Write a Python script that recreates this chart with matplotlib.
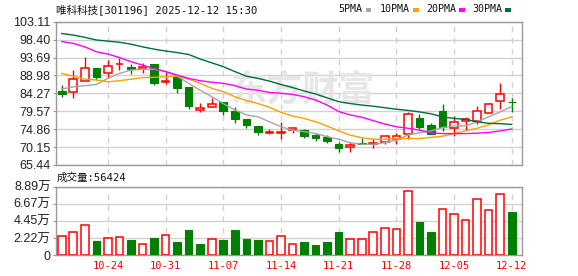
import matplotlib
matplotlib.use('Agg')
import matplotlib.pyplot as plt
from matplotlib.patches import Rectangle

# daily k-line, 2025-10-20 .. 2025-12-12
dates = ['10-20', '10-21', '10-22', '10-23', '10-24', '10-27', '10-28', '10-29', '10-30', '10-31',
         '11-03', '11-04', '11-05', '11-06', '11-07', '11-10', '11-11', '11-12', '11-13', '11-14',
         '11-17', '11-18', '11-19', '11-20', '11-21', '11-24', '11-25', '11-26', '11-27', '11-28',
         '12-01', '12-02', '12-03', '12-04', '12-05', '12-08', '12-09', '12-10', '12-11', '12-12']
opens = [84.88, 84.52, 87.42, 90.84, 89.52, 91.89, 91.10, 90.58, 91.98, 87.16,
         88.47, 85.84, 79.96, 80.75, 82.07, 79.61, 77.51, 75.67, 73.91, 73.74,
         74.61, 74.61, 73.30, 72.86, 70.84, 70.23, 71.28, 71.02, 71.37, 72.24,
         73.47, 77.68, 75.84, 79.70, 75.23, 76.89, 77.07, 79.00, 82.24, 82.07]
highs = [86.37, 90.40, 93.91, 90.84, 92.95, 93.47, 91.98, 92.16, 92.07, 89.96,
         88.65, 85.84, 81.63, 83.12, 82.07, 80.58, 77.51, 75.67, 74.79, 76.63,
         75.05, 74.88, 73.74, 73.30, 71.54, 71.37, 72.42, 72.42, 73.00, 73.74,
         79.44, 78.74, 76.54, 81.45, 78.30, 77.95, 80.93, 81.63, 86.89, 82.95]
lows = [83.40, 83.12, 87.42, 87.68, 88.21, 90.40, 89.35, 89.70, 86.45, 86.72,
        84.44, 80.14, 79.44, 80.75, 78.65, 76.54, 75.23, 73.38, 73.47, 72.24,
        73.74, 72.60, 71.80, 71.28, 68.91, 68.73, 70.93, 69.79, 70.93, 70.93,
        72.16, 74.88, 73.47, 74.44, 73.12, 74.61, 76.10, 79.00, 80.14, 79.44]
closes = [84.17, 87.95, 90.84, 88.47, 91.37, 92.07, 90.58, 91.10, 86.89, 87.51,
          85.75, 81.02, 80.31, 81.37, 79.70, 77.42, 76.02, 74.17, 74.09, 74.09,
          75.05, 73.12, 72.42, 71.72, 69.79, 70.58, 70.93, 71.28, 72.95, 73.03,
          78.74, 75.40, 73.47, 75.49, 76.63, 77.51, 79.61, 81.37, 84.00, 81.89]
# volume in 万 (10k) hands, up = close above previous close
volume = [2.47, 2.99, 3.86, 1.86, 2.17, 2.30, 1.95, 1.39, 2.20, 2.56,
          1.69, 3.25, 1.43, 2.03, 1.95, 3.25, 2.08, 1.95, 1.82, 2.42,
          1.39, 1.69, 1.30, 1.69, 2.99, 2.03, 2.03, 2.99, 3.46, 3.33,
          8.27, 4.29, 2.99, 5.93, 5.32, 4.50, 7.23, 5.84, 7.92, 5.64]
vol_up = [1, 1, 1, 0, 1, 1, 0, 1, 0, 1,
          0, 0, 0, 1, 0, 0, 0, 0, 1, 1,
          1, 0, 0, 0, 0, 1, 1, 1, 1, 1,
          1, 0, 0, 1, 1, 1, 1, 1, 1, 0]
ma5 = [85.4, 86.0, 86.3, 86.6, 88.2, 89.5, 90.4, 90.6, 90.6, 90.0,
       88.8, 86.9, 85.1, 83.4, 81.6, 79.9, 78.6, 78.1, 76.8, 75.5,
       74.6, 74.2, 73.7, 72.9, 72.2, 71.3, 70.9, 70.9, 71.3, 72.0,
       73.3, 73.9, 74.4, 75.3, 75.7, 75.7, 76.8, 78.1, 79.4, 80.8]
ma10 = [89.5, 88.8, 88.0, 87.8, 87.3, 87.6, 88.0, 88.4, 88.5, 88.6,
        88.8, 88.0, 86.9, 85.6, 84.7, 83.4, 82.4, 81.6, 80.6, 79.3,
        78.3, 77.7, 76.8, 75.7, 74.4, 73.3, 72.6, 72.2, 72.2, 72.4,
        72.4, 72.4, 72.7, 73.0, 73.7, 74.4, 75.1, 76.0, 77.2, 78.1]
ma20 = [97.9, 97.4, 96.5, 95.2, 94.6, 93.7, 92.6, 91.7, 90.8, 90.0,
        89.1, 88.2, 87.6, 87.2, 86.9, 86.3, 85.4, 85.1, 84.5, 84.3,
        84.0, 83.4, 82.5, 81.2, 79.5, 78.6, 78.0, 77.1, 76.2, 75.5,
        75.1, 74.6, 73.9, 73.7, 73.7, 73.7, 73.8, 74.0, 74.4, 74.9]
ma30 = [100.0, 99.6, 99.0, 98.3, 98.0, 97.7, 97.2, 96.5, 95.9, 95.4,
        95.0, 94.5, 93.3, 92.3, 91.3, 90.0, 88.8, 88.2, 87.5, 86.6,
        85.8, 84.9, 84.1, 83.1, 82.1, 81.6, 81.2, 80.9, 80.5, 80.1,
        79.8, 79.4, 78.9, 78.1, 77.7, 77.4, 76.8, 76.4, 76.3, 76.1]

price_ticks = [65.44, 70.15, 74.86, 79.57, 84.27, 88.98, 93.69, 98.40, 103.11]
vol_ticks = [0, 2.22, 4.45, 6.67, 8.89]
vol_labels = ['0', '2.22万', '4.45万', '6.67万', '8.89万']
week_ends = ['10-24', '10-31', '11-07', '11-14', '11-21', '11-28', '12-05', '12-12']

RED = '#ff0000'
GREEN = '#008000'
MA_COLORS = {'5PMA': '#a6a6a6', '10PMA': '#f5a300', '20PMA': '#ff00ff', '30PMA': '#006e3a'}
FRAME = '#9a9a9a'
GRID = '#d2d2d2'
CJK = ['DejaVu Sans Mono', 'Noto Sans CJK SC']
NUM = ['Liberation Sans', 'Noto Sans CJK SC']

W, H = 578, 276
fig = plt.figure(figsize=(W / 100, H / 100), dpi=100)
left, right = 55.5, 522
ax = fig.add_axes([left / W, 1 - 165 / H, (right - left) / W, (165 - 21.7) / H])
axv = fig.add_axes([left / W, 1 - 255 / H, (right - left) / W, (255 - 186.7) / H])

xs = list(range(len(dates)))
grid_x = [dates.index(d) for d in week_ends]
bw = 0.66

# candles
for i in xs:
    o, h, l, c = opens[i], highs[i], lows[i], closes[i]
    if c >= o:
        ax.vlines(i, c, h, color=RED, lw=1, zorder=3)
        ax.vlines(i, l, o, color=RED, lw=1, zorder=3)
        ax.add_patch(Rectangle((i - bw / 2, o), bw, max(c - o, 0.05), facecolor='white',
                               edgecolor=RED, lw=1.1, zorder=4))
    else:
        ax.vlines(i, l, h, color=GREEN, lw=1, zorder=3)
        ax.add_patch(Rectangle((i - bw / 2, c), bw, max(o - c, 0.05), facecolor=GREEN,
                               edgecolor=GREEN, lw=0.8, zorder=4))

for name, vals in zip(MA_COLORS, [ma5, ma10, ma20, ma30]):
    ax.plot(xs, vals, color=MA_COLORS[name], lw=1, zorder=5)

ax.set_xlim(-0.54, len(dates) - 0.11)
ax.set_ylim(price_ticks[0], price_ticks[-1])
ax.set_yticks(price_ticks)
ax.set_yticklabels([f'{t:.2f}' for t in price_ticks], family=NUM, fontsize=9, color='#222222')
ax.set_xticks(grid_x)
ax.set_xticklabels([])
ax.tick_params(axis='y', length=2.5, pad=1, color=FRAME)
ax.tick_params(axis='x', length=0)
ax.grid(axis='y', color=GRID, lw=1, zorder=0)
ax.grid(axis='x', color=GRID, lw=1, ls=(0, (4, 4)), zorder=0)
ax.text(0.53, 0.52, '东方财富', transform=ax.transAxes, ha='center', va='center',
        fontsize=26, color='#e6e6e6', family='Noto Sans CJK SC', fontweight='bold', zorder=1)

# volume
for i in xs:
    if vol_up[i]:
        axv.add_patch(Rectangle((i - bw / 2, 0), bw, volume[i], facecolor='white',
                                edgecolor=RED, lw=1.1, zorder=3))
    else:
        axv.add_patch(Rectangle((i - bw / 2, 0), bw, volume[i], facecolor=GREEN,
                                edgecolor=GREEN, lw=0.8, zorder=3))
axv.set_xlim(ax.get_xlim())
axv.set_ylim(0, vol_ticks[-1])
axv.set_yticks(vol_ticks)
axv.set_yticklabels(vol_labels, family=NUM, fontsize=9, color='#222222')
axv.set_xticks(grid_x)
axv.set_xticklabels(week_ends, family=CJK, fontsize=7.5, color=RED)
axv.tick_params(axis='y', length=2.5, pad=1, color=FRAME)
axv.tick_params(axis='x', length=0, pad=4)
axv.grid(axis='y', color=GRID, lw=1, zorder=0)
axv.grid(axis='x', color=GRID, lw=1, ls=(0, (4, 4)), zorder=0)

for a in (ax, axv):
    a.set_axisbelow(True)
    for s in a.spines.values():
        s.set_color(FRAME)
        s.set_linewidth(1)

# header and legend
fig.text(55.5 / W, 1 - 9.5 / H, '唯科科技[301196] 2025-12-12 15:30', family=CJK, fontsize=7.6,
         va='center', ha='left', color='#111111')
legend_x = {'5PMA': 338.7, '10PMA': 380, '20PMA': 426, '30PMA': 472.3}
for name, x0 in legend_x.items():
    t = fig.text(x0 / W, 1 - 9.5 / H, name, family=CJK, fontsize=7.2, va='center', ha='left',
                 color='#111111')
    x_sq = x0 + 6.2 * len(name) + 2
    fig.patches.append(Rectangle((x_sq / W, 1 - 11.5 / H), 5.5 / W, 4 / H, transform=fig.transFigure,
                                 facecolor=MA_COLORS[name], edgecolor='none'))

fig.text(57 / W, 1 - 177.5 / H, f'成交量:{56424}', family=CJK, fontsize=7.6, va='center',
         ha='left', color='#111111')

fig.savefig('out.png', dpi=100)
